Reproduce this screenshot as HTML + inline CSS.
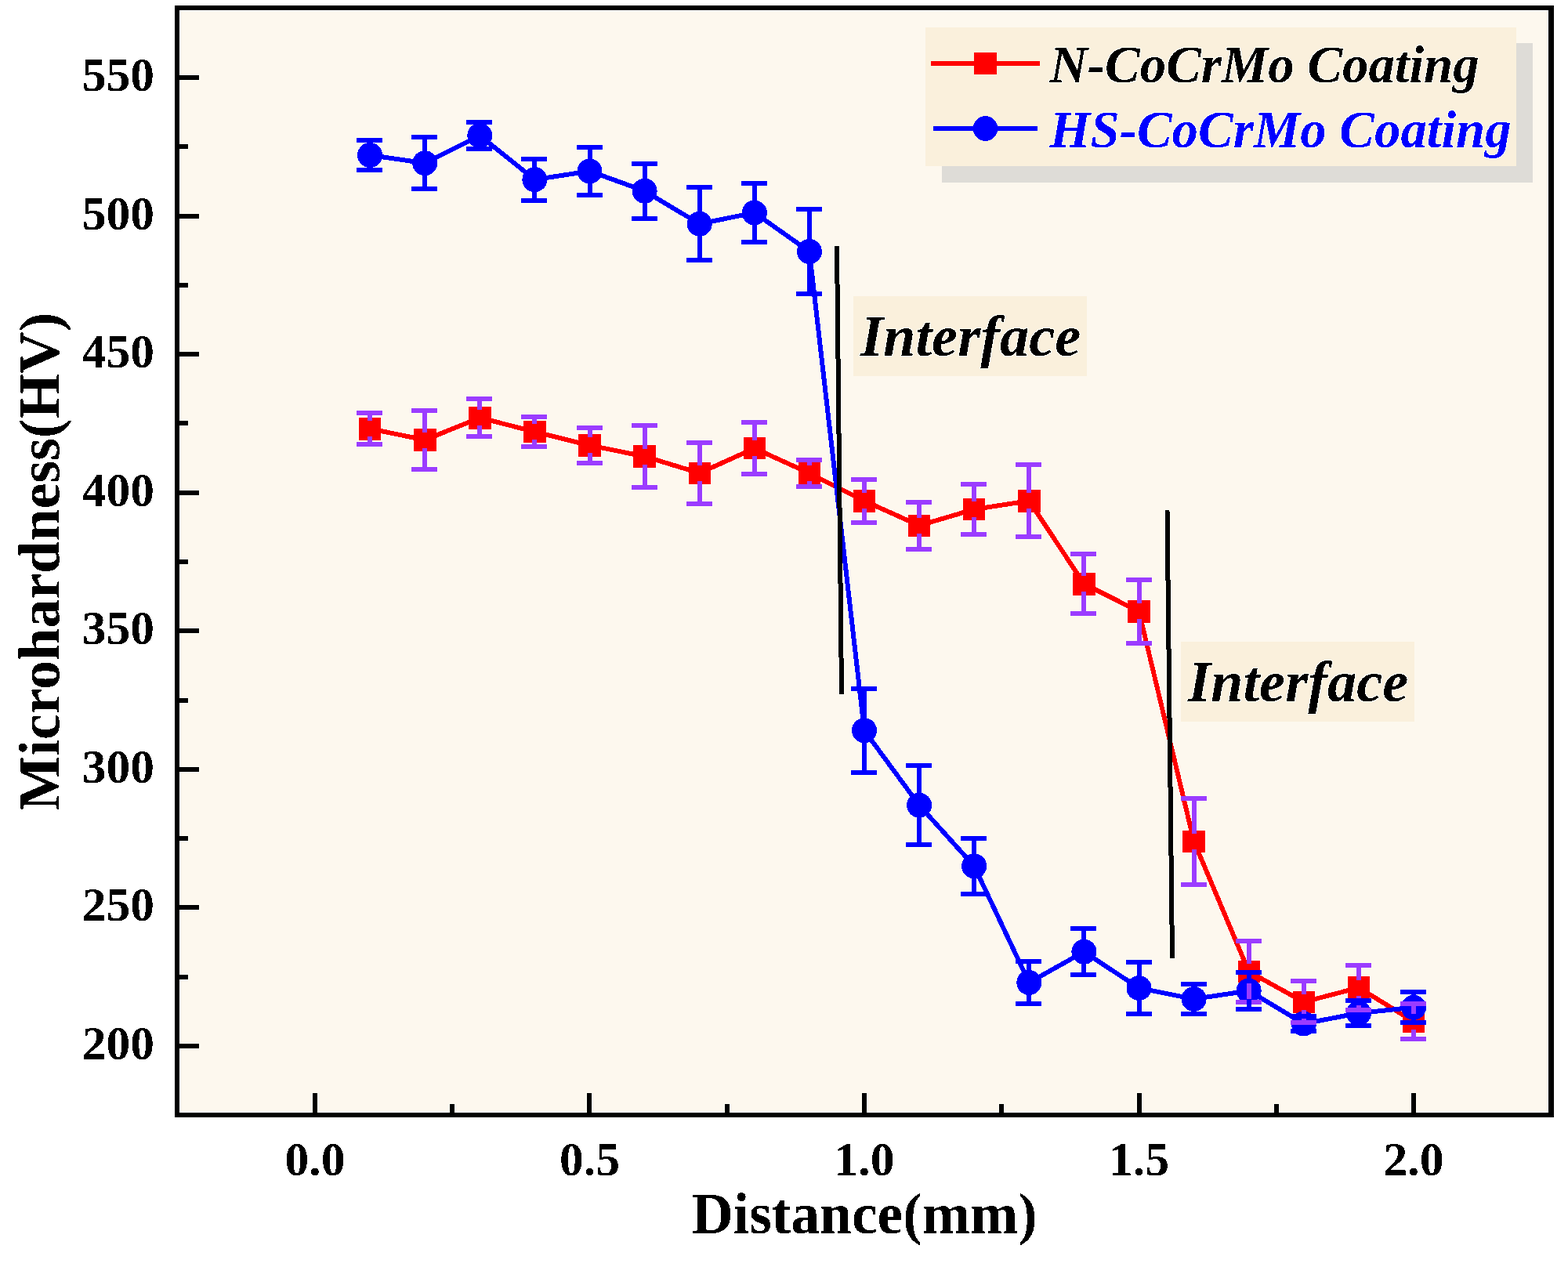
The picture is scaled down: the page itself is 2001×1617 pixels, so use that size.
<!DOCTYPE html><html><head><meta charset="utf-8"><title>Microhardness vs Distance</title>
<style>html,body{margin:0;padding:0;background:#fff;overflow:hidden;}svg{display:block;}text{font-family:"Liberation Serif","Times New Roman",serif;font-weight:bold;}</style></head><body>
<svg width="2001" height="1617" viewBox="0 0 2001 1617">
<defs>
<filter id="halo" filterUnits="userSpaceOnUse" x="0" y="0" width="2001" height="1617" color-interpolation-filters="sRGB"><feMorphology in="SourceAlpha" operator="dilate" radius="1" result="d"/><feFlood flood-color="#fffff6" flood-opacity="0.9"/><feComposite in2="d" operator="in" result="h"/><feMerge><feMergeNode in="h"/><feMergeNode in="SourceGraphic"/></feMerge></filter>
<filter id="txt" filterUnits="userSpaceOnUse" x="0" y="0" width="2001" height="1617" color-interpolation-filters="sRGB"><feComponentTransfer in="SourceGraphic" result="a"><feFuncA type="discrete" tableValues="0 1"/></feComponentTransfer><feMorphology in="a" operator="dilate" radius="1" result="d"/><feFlood flood-color="#fffff6" flood-opacity="0.9"/><feComposite in2="d" operator="in" result="h"/><feMerge><feMergeNode in="h"/><feMergeNode in="a"/></feMerge></filter>
<filter id="txtw" filterUnits="userSpaceOnUse" x="0" y="0" width="2001" height="1617" color-interpolation-filters="sRGB"><feComponentTransfer><feFuncA type="discrete" tableValues="0 1"/></feComponentTransfer></filter>
</defs>
<rect x="0" y="0" width="2001" height="1617" fill="#ffffff"/>
<rect x="230" y="14" width="1745" height="1405" fill="#fdf8ee"/>
<rect x="1202" y="55" width="754" height="178" fill="#dedcd7"/>
<rect x="1181" y="35" width="754" height="177" fill="#faf0dc"/>
<rect x="1089" y="378" width="298" height="102" fill="#faf0dc"/>
<rect x="1507" y="819" width="298" height="102" fill="#faf0dc"/>
<g filter="url(#halo)" shape-rendering="crispEdges">
<line x1="1068" y1="314" x2="1074" y2="886" stroke="#000" stroke-width="6"/>
<line x1="1489.5" y1="651" x2="1496" y2="1223" stroke="#000" stroke-width="6"/>
<polyline points="472.1,547.2 542.2,561.5 612.3,533.2 682.4,551.0 752.5,568.4 822.6,582.5 892.7,603.8 962.8,572.1 1032.9,604.0 1103.0,639.3 1173.1,670.7 1243.2,650.0 1313.3,639.2 1383.4,745.2 1453.5,780.4 1523.6,1073.8 1593.7,1240.0 1663.8,1278.8 1733.9,1260.5 1804.0,1303.6" fill="none" stroke="#ff0000" stroke-width="6" stroke-linejoin="round"/>
<g fill="#ff0000"><rect x="457.9" y="533.0" width="28.5" height="28.5"/><rect x="528.0" y="547.2" width="28.5" height="28.5"/><rect x="598.0" y="519.0" width="28.5" height="28.5"/><rect x="668.2" y="536.8" width="28.5" height="28.5"/><rect x="738.2" y="554.1" width="28.5" height="28.5"/><rect x="808.3" y="568.2" width="28.5" height="28.5"/><rect x="878.5" y="589.5" width="28.5" height="28.5"/><rect x="948.6" y="557.9" width="28.5" height="28.5"/><rect x="1018.7" y="589.8" width="28.5" height="28.5"/><rect x="1088.8" y="625.0" width="28.5" height="28.5"/><rect x="1158.8" y="656.5" width="28.5" height="28.5"/><rect x="1228.9" y="635.8" width="28.5" height="28.5"/><rect x="1299.1" y="625.0" width="28.5" height="28.5"/><rect x="1369.2" y="731.0" width="28.5" height="28.5"/><rect x="1439.2" y="766.1" width="28.5" height="28.5"/><rect x="1509.4" y="1059.5" width="28.5" height="28.5"/><rect x="1579.5" y="1225.8" width="28.5" height="28.5"/><rect x="1649.5" y="1264.5" width="28.5" height="28.5"/><rect x="1719.6" y="1246.2" width="28.5" height="28.5"/><rect x="1789.8" y="1289.3" width="28.5" height="28.5"/></g>
<polyline points="472.1,198.0 542.2,208.2 612.3,173.0 682.4,229.2 752.5,218.4 822.6,243.7 892.7,285.7 962.8,271.5 1032.9,321.0 1103.0,932.3 1173.1,1027.7 1243.2,1105.4 1313.3,1254.0 1383.4,1214.7 1453.5,1261.0 1523.6,1275.0 1593.7,1264.5 1663.8,1306.5 1733.9,1293.0 1804.0,1285.7" fill="none" stroke="#0000ff" stroke-width="6" stroke-linejoin="round"/>
<g fill="#0000ff"><circle cx="472.1" cy="198.0" r="16"/><circle cx="542.2" cy="208.2" r="16"/><circle cx="612.3" cy="173.0" r="16"/><circle cx="682.4" cy="229.2" r="16"/><circle cx="752.5" cy="218.4" r="16"/><circle cx="822.6" cy="243.7" r="16"/><circle cx="892.7" cy="285.7" r="16"/><circle cx="962.8" cy="271.5" r="16"/><circle cx="1032.9" cy="321.0" r="16"/><circle cx="1103.0" cy="932.3" r="16"/><circle cx="1173.1" cy="1027.7" r="16"/><circle cx="1243.2" cy="1105.4" r="16"/><circle cx="1313.3" cy="1254.0" r="16"/><circle cx="1383.4" cy="1214.7" r="16"/><circle cx="1453.5" cy="1261.0" r="16"/><circle cx="1523.6" cy="1275.0" r="16"/><circle cx="1593.7" cy="1264.5" r="16"/><circle cx="1663.8" cy="1306.5" r="16"/><circle cx="1733.9" cy="1293.0" r="16"/><circle cx="1804.0" cy="1285.7" r="16"/></g>
<path d="M472.1,527.2V537.2M472.1,557.2V567.2M455.1,527.2H488.1M455.1,567.2H488.1M542.2,524.0V551.5M542.2,571.5V599.0M525.2,524.0H558.2M525.2,599.0H558.2M612.3,509.2V523.2M612.3,543.2V557.2M595.3,509.2H628.3M595.3,557.2H628.3M682.4,532.0V541.0M682.4,561.0V570.0M665.4,532.0H698.4M665.4,570.0H698.4M752.5,545.9V558.4M752.5,578.4V590.9M735.5,545.9H768.5M735.5,590.9H768.5M822.6,543.0V572.5M822.6,592.5V622.0M805.6,543.0H838.6M805.6,622.0H838.6M892.7,565.0V593.8M892.7,613.8V642.6M875.7,565.0H908.7M875.7,642.6H908.7M962.8,539.1V562.1M962.8,582.1V605.1M945.8,539.1H978.8M945.8,605.1H978.8M1032.9,587.3V594.0M1032.9,614.0V620.7M1015.9,587.3H1048.9M1015.9,620.7H1048.9M1103.0,612.1V629.3M1103.0,649.3V666.5M1086.0,612.1H1119.0M1086.0,666.5H1119.0M1173.1,640.5V660.7M1173.1,680.7V700.9M1156.1,640.5H1189.1M1156.1,700.9H1189.1M1243.2,618.0V640.0M1243.2,660.0V682.0M1226.2,618.0H1259.2M1226.2,682.0H1259.2M1313.3,593.2V629.2M1313.3,649.2V685.2M1296.3,593.2H1329.3M1296.3,685.2H1329.3M1383.4,707.4V735.2M1383.4,755.2V783.0M1366.4,707.4H1399.4M1366.4,783.0H1399.4M1453.5,740.0V770.4M1453.5,790.4V820.8M1436.5,740.0H1469.5M1436.5,820.8H1469.5M1523.6,1018.8V1063.8M1523.6,1083.8V1128.8M1506.6,1018.8H1539.6M1506.6,1128.8H1539.6M1593.7,1201.0V1230.0M1593.7,1250.0V1279.0M1576.7,1201.0H1609.7M1576.7,1279.0H1609.7M1663.8,1252.3V1268.8M1663.8,1288.8V1305.3M1646.8,1252.3H1679.8M1646.8,1305.3H1679.8M1733.9,1232.0V1250.5M1733.9,1270.5V1289.0M1716.9,1232.0H1749.9M1716.9,1289.0H1749.9M1804.0,1281.1V1293.6M1804.0,1313.6V1326.1M1787.0,1281.1H1820.0M1787.0,1326.1H1820.0" fill="none" stroke="#9b3cff" stroke-width="6"/>
<path d="M472.1,179.0V188.0M472.1,208.0V217.0M455.1,179.0H488.1M455.1,217.0H488.1M542.2,175.0V198.2M542.2,218.2V241.4M525.2,175.0H558.2M525.2,241.4H558.2M612.3,156.0V163.0M612.3,183.0V190.0M595.3,156.0H628.3M595.3,190.0H628.3M682.4,202.9V219.2M682.4,239.2V255.5M665.4,202.9H698.4M665.4,255.5H698.4M752.5,187.9V208.4M752.5,228.4V248.9M735.5,187.9H768.5M735.5,248.9H768.5M822.6,208.9V233.7M822.6,253.7V278.5M805.6,208.9H838.6M805.6,278.5H838.6M892.7,239.4V275.7M892.7,295.7V332.0M875.7,239.4H908.7M875.7,332.0H908.7M962.8,234.0V261.5M962.8,281.5V309.0M945.8,234.0H978.8M945.8,309.0H978.8M1032.9,267.0V311.0M1032.9,331.0V375.0M1015.9,267.0H1048.9M1015.9,375.0H1048.9M1103.0,879.0V922.3M1103.0,942.3V985.6M1086.0,879.0H1119.0M1086.0,985.6H1119.0M1173.1,977.4V1017.7M1173.1,1037.7V1078.0M1156.1,977.4H1189.1M1156.1,1078.0H1189.1M1243.2,1069.9V1095.4M1243.2,1115.4V1140.9M1226.2,1069.9H1259.2M1226.2,1140.9H1259.2M1313.3,1227.0V1244.0M1313.3,1264.0V1281.0M1296.3,1227.0H1329.3M1296.3,1281.0H1329.3M1383.4,1185.4V1204.7M1383.4,1224.7V1244.0M1366.4,1185.4H1399.4M1366.4,1244.0H1399.4M1453.5,1228.0V1251.0M1453.5,1271.0V1294.0M1436.5,1228.0H1469.5M1436.5,1294.0H1469.5M1523.6,1256.0V1265.0M1523.6,1285.0V1294.0M1506.6,1256.0H1539.6M1506.6,1294.0H1539.6M1593.7,1241.0V1254.5M1593.7,1274.5V1288.0M1576.7,1241.0H1609.7M1576.7,1288.0H1609.7M1646.8,1297.0H1679.8M1646.8,1316.0H1679.8M1733.9,1277.0V1283.0M1733.9,1303.0V1309.0M1716.9,1277.0H1749.9M1716.9,1309.0H1749.9M1804.0,1266.0V1275.7M1804.0,1295.7V1305.4M1787.0,1266.0H1820.0M1787.0,1305.4H1820.0" fill="none" stroke="#0000ff" stroke-width="6"/>
<path d="M229,1335H254M229,1158H254M229,982H254M229,805H254M229,629H254M229,452H254M229,276H254M229,99H254M229,1247H240M229,1070H240M229,894H240M229,717H240M229,540H240M229,364H240M229,187H240M402,1420V1395M752,1420V1395M1103,1420V1395M1454,1420V1395M1804,1420V1395M577,1420V1409M928,1420V1409M1278,1420V1409M1629,1420V1409" stroke="#000" stroke-width="6" fill="none"/>
</g>
<g shape-rendering="crispEdges">
<line x1="1068" y1="314" x2="1074" y2="886" stroke="#000" stroke-width="6"/>
<line x1="1489.5" y1="651" x2="1496" y2="1223" stroke="#000" stroke-width="6"/>
</g>
<g shape-rendering="crispEdges">
<line x1="1188" y1="81" x2="1327" y2="81" stroke="#ff0000" stroke-width="6"/>
<rect x="1243" y="67" width="29" height="28" fill="#ff0000"/>
<line x1="1191" y1="164" x2="1324" y2="164" stroke="#0000ff" stroke-width="6"/>
<circle cx="1257.5" cy="164" r="15.8" fill="#0000ff"/>
</g>
<path d="M223,7H1983V13H223ZM223,1420H1983V1426H223ZM223,7H229V1426H223ZM1976,7H1983V1426H1976Z" fill="#000"/>
<g filter="url(#txt)">
<text x="1098" y="454.3" font-size="74.5" font-style="italic">Interface</text>
<text x="1516" y="895.2" font-size="74.5" font-style="italic">Interface</text>
<text x="1339.5" y="104.7" font-size="66.9" font-style="italic" fill="#000">N-CoCrMo Coating</text>
<text x="1339.5" y="188.3" font-size="66.9" font-style="italic" fill="#0000ff">HS-CoCrMo Coating</text>
</g>
<g filter="url(#txtw)">
<text x="197" y="1352.0" font-size="61.5" text-anchor="end">200</text>
<text x="197" y="1175.4" font-size="61.5" text-anchor="end">250</text>
<text x="197" y="998.9" font-size="61.5" text-anchor="end">300</text>
<text x="197" y="822.3" font-size="61.5" text-anchor="end">350</text>
<text x="197" y="645.7" font-size="61.5" text-anchor="end">400</text>
<text x="197" y="469.1" font-size="61.5" text-anchor="end">450</text>
<text x="197" y="292.6" font-size="61.5" text-anchor="end">500</text>
<text x="197" y="116.0" font-size="61.5" text-anchor="end">550</text>
<text x="402.0" y="1499.5" font-size="61.5" text-anchor="middle">0.0</text>
<text x="752.5" y="1499.5" font-size="61.5" text-anchor="middle">0.5</text>
<text x="1103.0" y="1499.5" font-size="61.5" text-anchor="middle">1.0</text>
<text x="1453.5" y="1499.5" font-size="61.5" text-anchor="middle">1.5</text>
<text x="1804.0" y="1499.5" font-size="61.5" text-anchor="middle">2.0</text>
<text x="1103.2" y="1573.5" font-size="73.5" text-anchor="middle">Distance(mm)</text>
<text transform="translate(75.5,716.6) rotate(-90)" x="0" y="0" font-size="74" text-anchor="middle">Microhardness(HV)</text>
</g>
</svg></body></html>
